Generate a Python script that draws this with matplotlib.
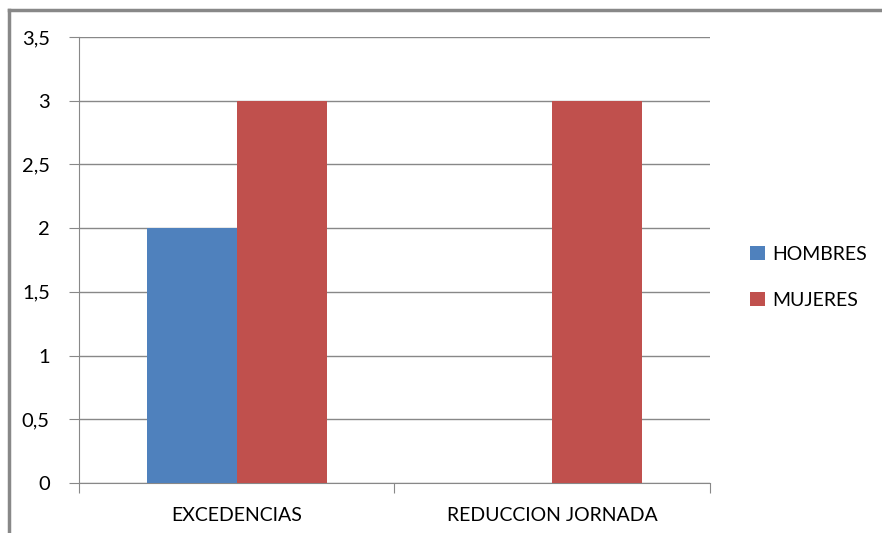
import matplotlib.pyplot as plt
from matplotlib.lines import Line2D
import numpy as np

categories = ['EXCEDENCIAS', 'REDUCCION JORNADA']
hombres = [2, 0]
mujeres = [3, 3]
series_names = ['HOMBRES', 'MUJERES']
yticks = [0, 0.5, 1, 1.5, 2, 2.5, 3, 3.5]
ytick_labels = ['0', '0,5', '1', '1,5', '2', '2,5', '3', '3,5']

plt.rcParams['font.family'] = ['Lato', 'DejaVu Sans']

fig = plt.figure(figsize=(8.82, 5.33), dpi=100)
ax = fig.add_axes([79/882, 1-483/533, (710-79)/882, (483-37)/533])

x = np.arange(len(categories))
w = 0.285
ax.bar(x - w/2, hombres, w, color='#4F81BD', label=series_names[0], zorder=3)
ax.bar(x + w/2, mujeres, w, color='#C0504D', label=series_names[1], zorder=3)

ax.set_xlim(-0.5, 1.5)
ax.set_ylim(0, 3.5)
ax.set_yticks(yticks)
ax.set_yticklabels(ytick_labels, fontsize=14.5)
ax.set_xticks([-0.5, 0.5, 1.5], minor=False)
ax.set_xticklabels(['', '', ''])
ax.set_xticks(x, minor=True)
ax.set_xticklabels(categories, minor=True, fontsize=14)
ax.tick_params(axis='x', which='minor', length=0, pad=17)
ax.tick_params(axis='x', which='major', length=7, color='#888888', direction='out')
ax.tick_params(axis='y', length=7, color='#888888', pad=14)

ax.yaxis.grid(True, color='#888888', linewidth=1)
ax.set_axisbelow(True)
for s in ['top', 'right']:
    ax.spines[s].set_visible(False)
ax.spines['left'].set_color('#888888')
ax.spines['bottom'].set_color('#888888')

ax.legend(loc='center left', bbox_to_anchor=(1.036, 0.461), frameon=False,
          handlelength=0.75, handleheight=0.75, handletextpad=0.4,
          labelspacing=1.5, fontsize=14)

fig.add_artist(Line2D([9/882, 9/882], [0, 1-10/533], color='#888888', lw=2.5,
                      transform=fig.transFigure))
fig.add_artist(Line2D([9/882, 1], [1-10/533, 1-10/533], color='#888888', lw=2.5,
                      transform=fig.transFigure))

fig.savefig('out.png', dpi=100)
